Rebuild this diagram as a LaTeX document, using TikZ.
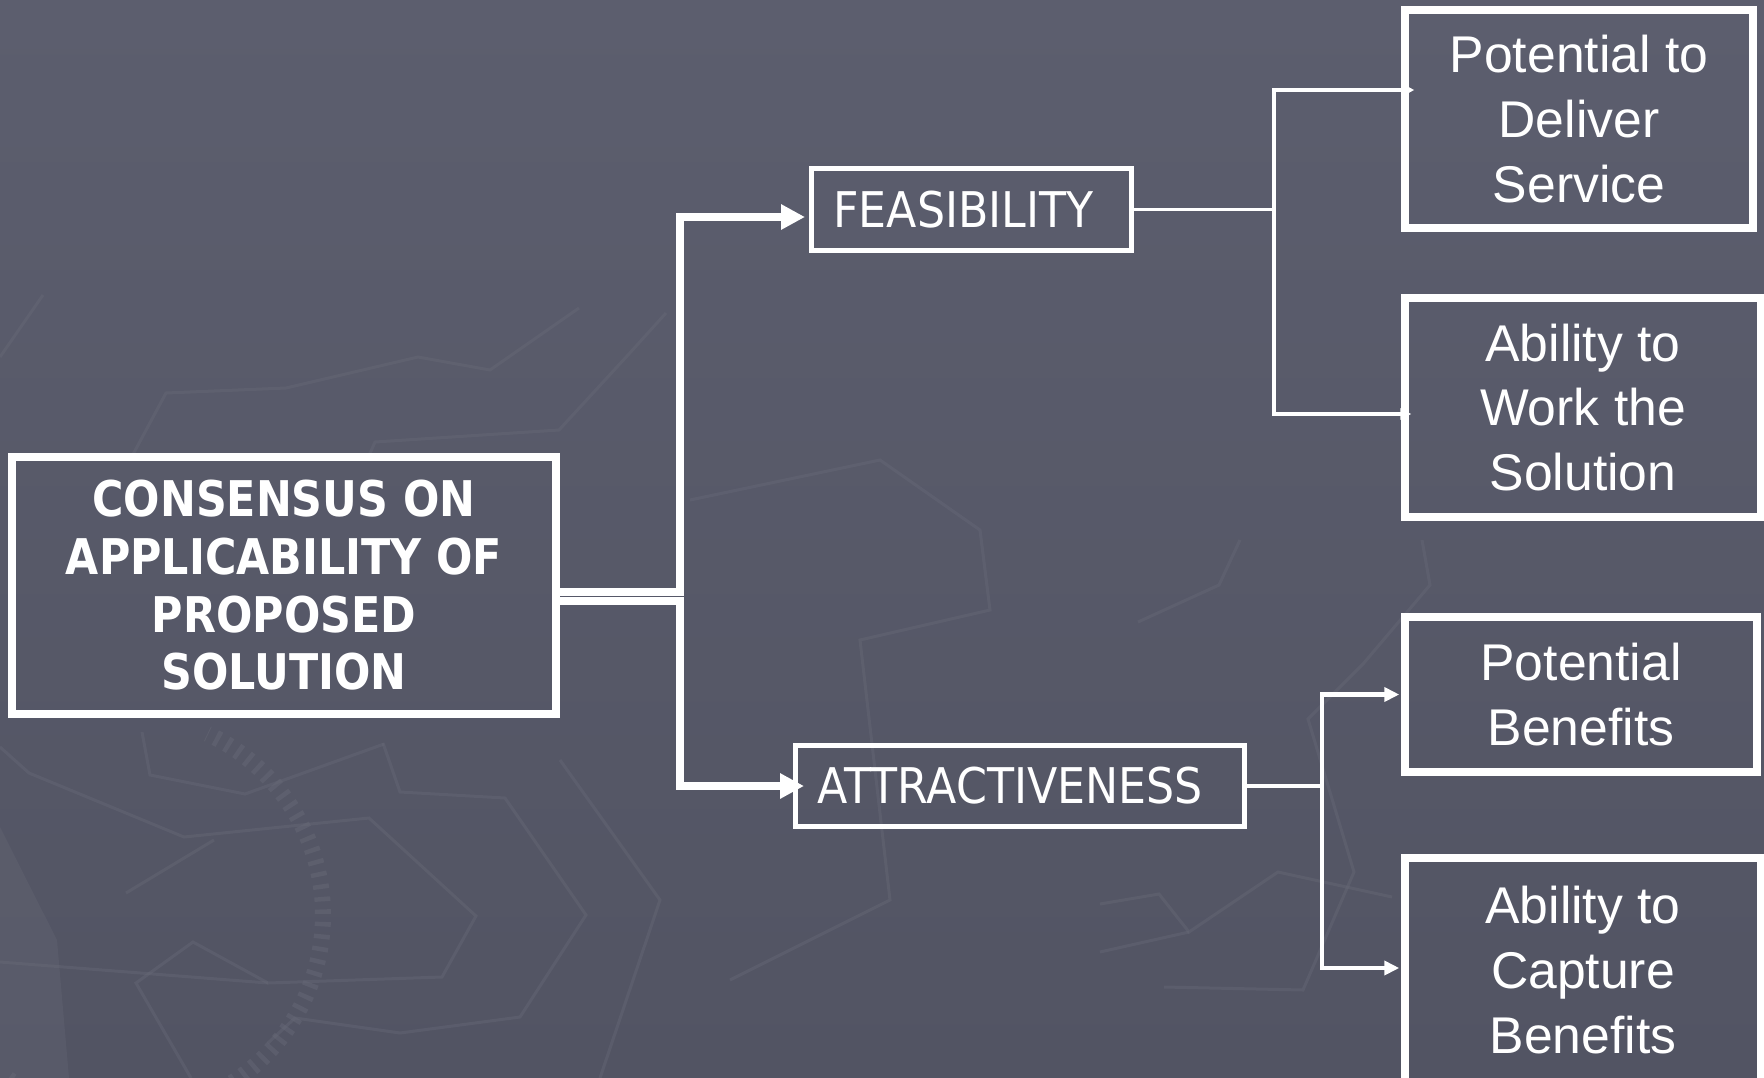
\documentclass[tikz,border=0pt]{standalone}
\usepackage{fontspec}
\setmainfont{Liberation Sans}
\newfontfamily\tahoma{DejaVu Sans}[FakeStretch=0.9]
\newfontfamily\tahomabold{DejaVu Sans}[FakeStretch=0.87]
\usetikzlibrary{arrows.meta}
\definecolor{bgtop}{HTML}{5C5E6E}
\definecolor{bgbot}{HTML}{525463}
\definecolor{mapgrey}{HTML}{686A78}
\begin{document}
\begin{tikzpicture}[x=0.1mm,y=-0.1mm,
  consbox/.style={draw=white, line width=0.8mm, text=white, align=center,
    font={\tahomabold\bfseries\fontsize{14}{16.4}\selectfont}},
  levelbox/.style={draw=white, line width=0.5mm, text=white, align=left,
    inner xsep=2.2mm, font={\tahoma\fontsize{14}{16}\selectfont}},
  leafbox/.style={draw=white, line width=0.75mm, text=white, align=center,
    font={\fontsize{14.7}{18.4}\selectfont}},
  mainarrow/.style={draw=white, line width=0.8mm, -{Triangle[length=2.4mm,width=2.4mm]}},
  feasarrow/.style={draw=white, line width=0.35mm, -{Triangle[length=1.1mm,width=1.1mm]}},
  attrarrow/.style={draw=white, line width=0.45mm, -{Triangle[length=1.5mm,width=1.4mm]}},
  mapline/.style={draw=mapgrey, line width=0.3mm, opacity=0.4}
]

  \clip (0,0) rectangle (1764,1078);
  \fill[top color=bgtop, bottom color=bgbot] (0,0) rectangle (1764,1078);

  % faint map behind the chart
  \fill[mapgrey, opacity=0.3] (0,827) -- (57,940) -- (69,1078) -- (0,1078) -- cycle;
  \draw[mapline] (383,743) -- (400,792) -- (505,798) -- (586,915) -- (520,1017) -- (400,1033) -- (295,1018) -- (268,1043);
  \draw[mapline] (142,732) -- (150,775) -- (245,794) -- (384,744);
  \draw[mapline] (0,747) -- (29,773) -- (184,837) -- (369,818) -- (476,916) -- (442,977) -- (268,983) -- (193,942) -- (136,983) -- (191,1078);
  \draw[mapline] (0,962) -- (268,983);
  \draw[mapline] (126,893) -- (214,840);
  \draw[mapline] (0,357) -- (43,295);
  \draw[mapline] (130,460) -- (166,393) -- (286,388) -- (418,357) -- (490,370) -- (579,308);
  \draw[mapline] (367,460) -- (375,442) -- (559,430) -- (628,355) -- (666,313);
  \draw[mapline] (1138,622) -- (1219,585) -- (1240,540);
  \draw[mapline] (1100,904) -- (1159,894) -- (1189,932) -- (1278,872) -- (1392,897);
  \draw[mapline] (1100,952) -- (1189,932);
  \draw[mapline] (1164,987) -- (1303,990) -- (1354,872) -- (1308,719) -- (1363,664) -- (1430,585) -- (1422,540);
  \draw[mapline] (690,500) -- (880,460) -- (980,530) -- (990,610) -- (860,640) -- (890,900) -- (730,980);
  \draw[mapline] (600,1078) -- (660,900) -- (560,760);
  \draw[mapgrey, opacity=0.45, line width=1.6mm, dash pattern=on 0.45mm off 0.8mm]
    (123,915) ++(125:200) arc[start angle=125, end angle=-65, radius=200];

  \node[consbox, minimum width=54.4mm, minimum height=25.7mm] (cons) at (284,585.5)
    {CONSENSUS ON\\APPLICABILITY OF\\PROPOSED\\SOLUTION};

  \node[levelbox, text width=27.6mm, minimum height=8.2mm] (feas) at (971.5,209.5) {FEASIBILITY};
  \node[levelbox, text width=40.5mm, minimum height=8.1mm] (attr) at (1020,786) {ATTRACTIVENESS};

  \node[leafbox, minimum width=34.8mm, minimum height=21.8mm] (deliver) at (1579,119)
    {Potential to\\Deliver\\Service};
  \node[leafbox, minimum width=35.6mm, minimum height=21.9mm] (work) at (1583,407.5)
    {Ability to\\Work the\\Solution};
  \node[leafbox, minimum width=35.2mm, minimum height=15.5mm] (potben) at (1581,694.5)
    {Potential\\Benefits};
  \node[leafbox, minimum width=35.6mm, minimum height=22.4mm] (capture) at (1583,970)
    {Ability to\\Capture\\Benefits};

  \draw[mainarrow, shorten >=0.4mm] ([yshift=-0.6mm]cons.east) -- ++(120,0) |- ([yshift=-0.75mm]feas.west);
  \draw[mainarrow, shorten >=-1.1mm] ([yshift=-1.55mm]cons.east) -- ++(120,0) |- (attr.west);

  \draw[feasarrow, shorten >=-1.3mm] (feas.east) -- ++(140,0) |- ([yshift=2.9mm]deliver.west);
  \draw[feasarrow, shorten >=-1mm] (feas.east) -- ++(140,0) |- ([yshift=-0.65mm]work.west);

  \draw[attrarrow, shorten >=0.2mm] (attr.east) -- ++(75,0) |- (potben.west);
  \draw[attrarrow, shorten >=0.2mm] (attr.east) -- ++(75,0) |- ([yshift=0.2mm]capture.west);

\end{tikzpicture}
\end{document}
